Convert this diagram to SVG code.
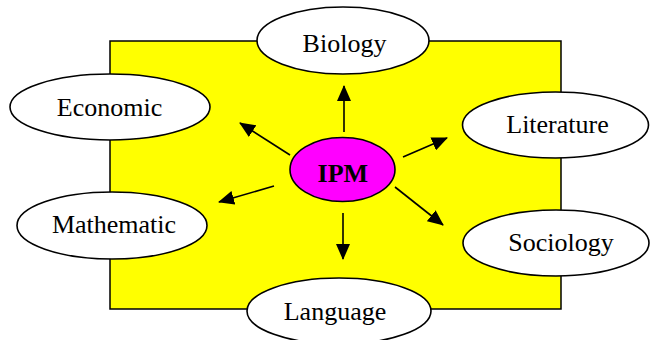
<svg xmlns="http://www.w3.org/2000/svg" width="651" height="340" viewBox="0 0 651 340">
  <style>
    .bg { fill: #ffff00; stroke: #000; stroke-width: 1.5; }
    .node ellipse { fill: #fff; stroke: #000; stroke-width: 1.6; }
    .node text { font-family: "Liberation Serif", "Times New Roman", serif; font-size: 26px; fill: #000; text-anchor: middle; }
    #ipm ellipse { fill: #ff00ff; }
    #ipm text { font-weight: bold; }
    .conn line { stroke: #000; stroke-width: 1.6; marker-end: url(#head); }
  </style>
  <defs>
    <marker id="head" viewBox="0 0 16 14" refX="15" refY="7" markerWidth="16" markerHeight="14" markerUnits="userSpaceOnUse" orient="auto">
      <path d="M0,0 L16,7 L0,14 Z" fill="#000"/>
    </marker>
  </defs>

  <!-- yellow backdrop -->
  <rect class="bg" x="110" y="41" width="451" height="268"/>

  <!-- arrows from the centre node -->
  <g id="connectors" class="conn">
    <line x1="344" y1="132" x2="344" y2="86"/>
    <line x1="290" y1="155" x2="240" y2="123"/>
    <line x1="274" y1="186" x2="219" y2="202"/>
    <line x1="403" y1="157" x2="447" y2="138"/>
    <line x1="395" y1="187" x2="443" y2="225"/>
    <line x1="343" y1="213" x2="343" y2="259"/>
  </g>

  <g id="biology" class="node">
    <ellipse cx="343" cy="40.5" rx="86" ry="33.5"/>
    <text x="344.5" y="52">Biology</text>
  </g>
  <g id="economic" class="node">
    <ellipse cx="110" cy="107" rx="100" ry="33"/>
    <text x="109.5" y="116">Economic</text>
  </g>
  <g id="mathematic" class="node">
    <ellipse cx="112" cy="225.5" rx="95" ry="33.5"/>
    <text x="114" y="233">Mathematic</text>
  </g>
  <g id="literature" class="node">
    <ellipse cx="555.5" cy="125" rx="93" ry="33"/>
    <text x="557.5" y="133">Literature</text>
  </g>
  <g id="sociology" class="node">
    <ellipse cx="556" cy="243" rx="93" ry="33"/>
    <text x="561" y="251">Sociology</text>
  </g>
  <g id="language" class="node">
    <ellipse cx="339" cy="311" rx="92" ry="33"/>
    <text x="335" y="320">Language</text>
  </g>
  <g id="ipm" class="node">
    <ellipse cx="342.5" cy="169.5" rx="52.5" ry="32"/>
    <text x="342.8" y="181.5">IPM</text>
  </g>
</svg>
